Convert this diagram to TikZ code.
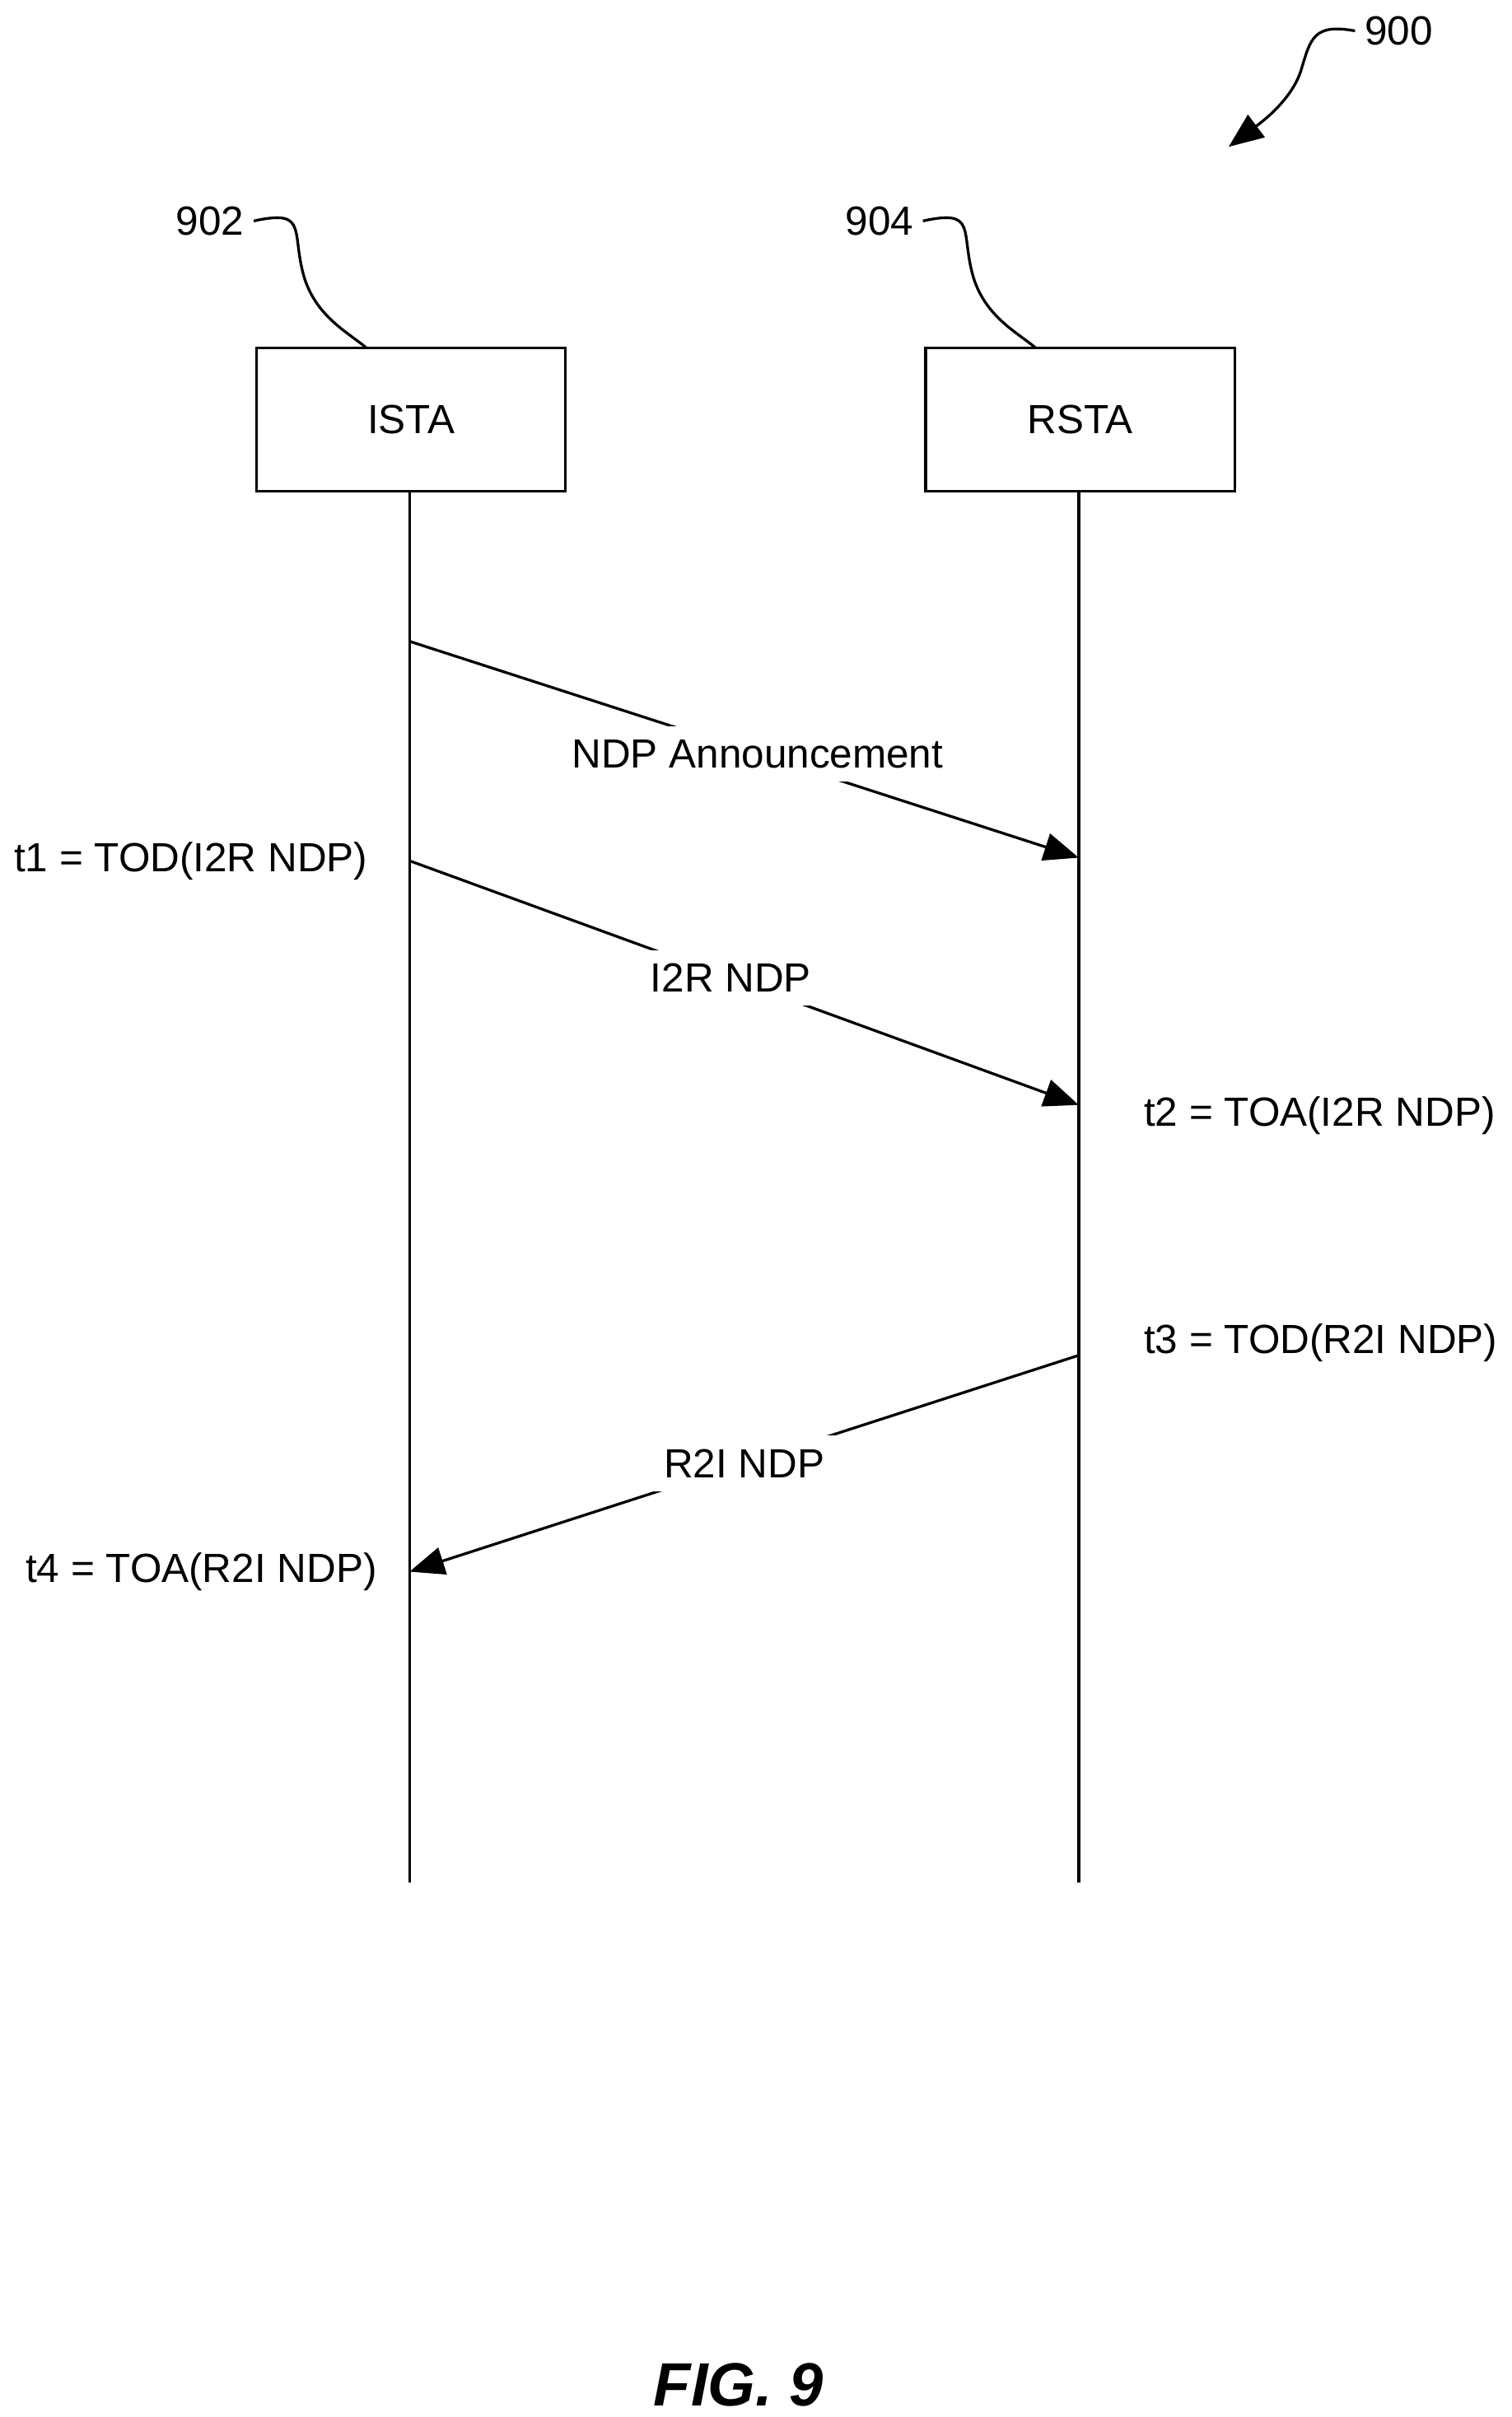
\documentclass[tikz,border=0pt]{standalone}
\usepackage{fontspec}
\setmainfont{Liberation Sans}
\usetikzlibrary{arrows.meta, positioning}
\begin{document}
\begin{tikzpicture}[
    x=0.02cm, y=-0.02cm,
    every node/.style={font=\fontsize{15}{18}\selectfont},
    station/.style={draw, line width=1pt, minimum width=4cm, minimum height=1.86cm},
    msg/.style={-{Triangle[length=4.5mm, width=3.6mm]}, line width=1pt},
    msg label/.style={fill=white, inner xsep=6pt, inner ysep=5pt},
    leader/.style={line width=1pt}
]
\useasboundingbox (0,0) rectangle (978,1564);

% Stations
\node[station] (ista) at (266,271.5) {ISTA};
\node[station] (rsta) at (699,271.5) {RSTA};

% Lifelines
\coordinate (ista end) at (265,1218);
\coordinate (rsta end) at (698,1218);
\draw[line width=1pt] (ista.south -| ista end) -- (ista end);
\draw[line width=1pt] (rsta.south -| rsta end) -- (rsta end);

% Message points
\coordinate (ann start) at (265,415);
\coordinate (ann end) at (698,555);
\coordinate (i2r start) at (265,557);
\coordinate (i2r end) at (698,715);
\coordinate (r2i start) at (698,877);
\coordinate (r2i end) at (265,1017);

% Messages
\draw[msg] (ann start) -- node[msg label, pos=0.52] {NDP Announcement} (ann end);
\draw[msg] (i2r start) -- node[msg label, pos=0.48] {I2R NDP} (i2r end);
\draw[msg] (r2i start) -- node[msg label, pos=0.5] {R2I NDP} (r2i end);

% Timestamps
\node[anchor=east] (t1) at (244,557) {t1 = TOD(I2R NDP)};
\node[anchor=west] (t2) at (734,722) {t2 = TOA(I2R NDP)};
\node[anchor=west] (t3) at (734,869) {t3 = TOD(R2I NDP)};
\node[anchor=east] (t4) at (250,1017) {t4 = TOA(R2I NDP)};

% Reference numerals
\node (n902) at (136,143) {902};
\node (n904) at (569,143) {904};
\node (n900) at (905,20) {900};
\coordinate (box902) at (237,225);
\coordinate (box904) at (670,225);
\coordinate (tip900) at (795,95);
\draw[leader] (n902.east) .. controls (200,135) and (188,150) .. (197,180) .. controls (205,205) and (225,215) .. (box902);
\draw[leader] (n904.east) .. controls (633,135) and (621,150) .. (630,180) .. controls (638,205) and (658,215) .. (box904);
\draw[leader, -{Triangle[length=4.5mm, width=3.6mm]}] (n900.west) .. controls (850,15) and (848,25) .. (842,45) .. controls (836,65) and (815,80) .. (tip900);

% Caption
\node[font=\fontsize{22.5}{27}\selectfont\bfseries\itshape] (fig) at (478,1543) {FIG. 9};
\end{tikzpicture}
\end{document}
